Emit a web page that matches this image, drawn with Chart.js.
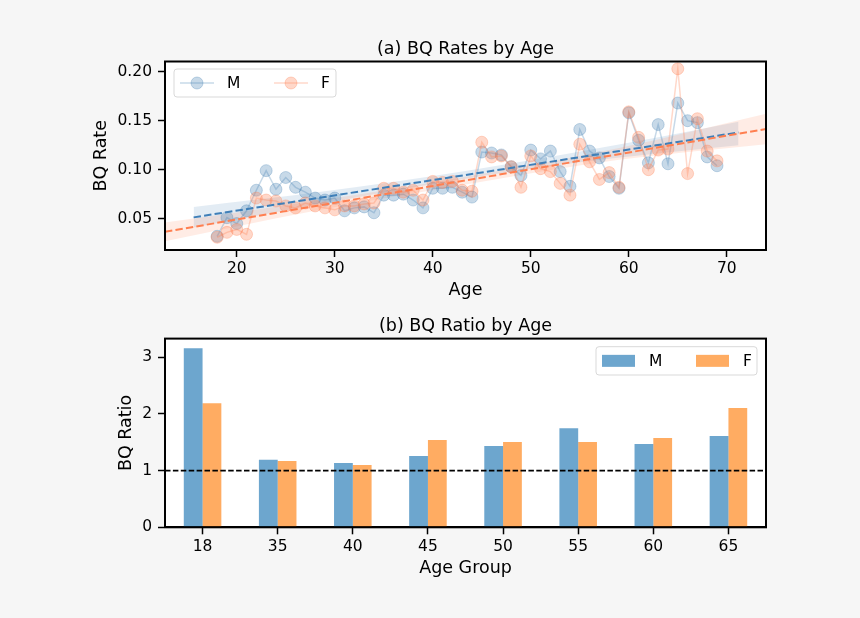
<!DOCTYPE html>
<html>
<head>
<meta charset="utf-8">
<script src="https://cdn.jsdelivr.net/npm/chart.js@4"></script>
<style>
  body { margin: 0; background: #f6f6f6; }
  .wrap { position: relative; width: 860px; height: 618px; }
  canvas { position: absolute; left: 0; }
</style>
</head>
<body>
<div class="wrap">
  <canvas id="rateChart" width="860" height="309" style="top:0"></canvas>
  <canvas id="ratioChart" width="860" height="309" style="top:309px"></canvas>
</div>
<script>
// ===== data (a) : BQ rate by age =====
const ages = [18, 19, 20, 21, 22, 23, 24, 25, 26, 27, 28, 29, 30, 31, 32, 33, 34, 35, 36, 37,
  38, 39, 40, 41, 42, 43, 44, 45, 46, 47, 48, 49, 50, 51, 52, 53, 54, 55, 56, 57,
  58, 59, 60, 61, 62, 63, 64, 65, 66, 67, 68, 69]
const rateM = [0.032, 0.051, 0.045, 0.058, 0.079, 0.099, 0.080, 0.092, 0.082, 0.077,
  0.071, 0.069, 0.071, 0.058, 0.061, 0.062, 0.056, 0.074, 0.074, 0.075,
  0.069, 0.061, 0.081, 0.081, 0.082, 0.077, 0.072, 0.118, 0.117, 0.115,
  0.103, 0.094, 0.120, 0.111, 0.119, 0.098, 0.083, 0.141, 0.119, 0.112,
  0.093, 0.081, 0.158, 0.130, 0.107, 0.146, 0.106, 0.168, 0.150, 0.148,
  0.113, 0.104]
const rateF = [0.031, 0.036, 0.039, 0.034, 0.071, 0.069, 0.068, 0.063, 0.061, 0.066,
  0.063, 0.061, 0.059, 0.063, 0.063, 0.065, 0.066, 0.081, 0.081, 0.077,
  0.079, 0.069, 0.088, 0.087, 0.088, 0.079, 0.078, 0.128, 0.113, 0.114,
  0.103, 0.082, 0.114, 0.101, 0.098, 0.086, 0.074, 0.126, 0.108, 0.090,
  0.097, 0.082, 0.159, 0.133, 0.100, 0.120, 0.121, 0.203, 0.096, 0.152,
  0.119, 0.109]

// fitted trend lines + confidence bands
const trendAgeM = [15.6, 71.2]
const trendM = [0.0513, 0.138]
const trendAgeF = [12.68, 74.0]
const trendF = [0.0366, 0.1415]
const bandAgeM = [15.6, 29, 43.5, 57, 71.2]
const bandHiM = [0.062, 0.078, 0.099, 0.122, 0.149]
const bandLoM = [0.041, 0.066, 0.091, 0.110, 0.125]
const bandAgeF = [12.68, 28, 43.5, 59, 74.0]
const bandHiF = [0.046, 0.068, 0.093, 0.122, 0.157]
const bandLoF = [0.027, 0.058, 0.085, 0.110, 0.126]

const ageTicks = [20, 30, 40, 50, 60, 70]
const rateTicks = [0.05, 0.10, 0.15, 0.20]

// ===== data (b) : BQ ratio by age group =====
const ageGroups = ['18', '35', '40', '45', '50', '55', '60', '65']
const ratioM = [3.16, 1.19, 1.135, 1.26, 1.435, 1.75, 1.47, 1.61]
const ratioF = [2.19, 1.17, 1.10, 1.54, 1.505, 1.505, 1.575, 2.105]
const refLevel = 1
const ratioTicks = [0, 1, 2, 3]

Chart.defaults.font.family = '"DejaVu Sans", sans-serif'
Chart.defaults.color = '#000'

const pts = (xs, ys) => xs.map((x, i) => ({ x: x, y: ys[i] }))
const groupIdx = ageGroups.map((g, i) => i)

// white plot area + black frame all round
const framePlugin = {
  id: 'frame',
  beforeDraw(chart) {
    const { ctx, chartArea: a } = chart
    ctx.save()
    ctx.fillStyle = '#fff'
    ctx.fillRect(a.left, a.top, a.right - a.left, a.bottom - a.top)
    ctx.restore()
  },
  afterDraw(chart) {
    const { ctx, chartArea: a } = chart
    ctx.save()
    ctx.strokeStyle = '#000'
    ctx.lineWidth = 2
    ctx.strokeRect(a.left, a.top, a.right - a.left, a.bottom - a.top)
    ctx.restore()
  }
}

// legend inside a rounded box, like matplotlib
const boxLegend = {
  id: 'boxLegend',
  afterDatasetsDraw(chart, args, opts) {
    const { ctx } = chart
    const [x, y, w, h] = opts.box
    const cy = y + h / 2
    ctx.save()
    ctx.fillStyle = 'rgba(255,255,255,0.8)'
    ctx.strokeStyle = '#d9d9d9'
    ctx.lineWidth = 1
    ctx.beginPath()
    ctx.roundRect(x, y, w, h, 3)
    ctx.fill()
    ctx.stroke()
    ctx.font = '15.5px "DejaVu Sans"'
    ctx.textBaseline = 'middle'
    opts.items.forEach(it => {
      const ds = chart.data.datasets[it.dataset]
      const x0 = x + it.offset
      if (opts.kind === 'marker') {
        ctx.strokeStyle = ds.borderColor
        ctx.lineWidth = 1.5
        ctx.beginPath()
        ctx.moveTo(x0, cy)
        ctx.lineTo(x0 + 34, cy)
        ctx.stroke()
        ctx.beginPath()
        ctx.arc(x0 + 17, cy, 6, 0, Math.PI * 2)
        ctx.fillStyle = ds.pointBackgroundColor
        ctx.fill()
        ctx.lineWidth = 1
        ctx.strokeStyle = ds.pointBorderColor
        ctx.stroke()
      } else {
        ctx.fillStyle = ds.backgroundColor
        ctx.fillRect(x0, cy - 6, 33, 12)
      }
      ctx.fillStyle = '#000'
      ctx.fillText(ds.label, x0 + 47, cy + 1)
    })
    ctx.restore()
  }
}

const tickGrid = { drawOnChartArea: false, drawTicks: true, tickLength: 7, tickColor: '#000', tickWidth: 1.5, offset: false }
const axisBorder = { display: true, color: '#000', width: 2 }
const tickFont = { size: 15.5 }
const labelFont = { size: 17.5 }

const blue = 'rgba(70,130,180,0.3)'
const orange = 'rgba(255,127,80,0.3)'

// ======= Chart (a) : rates by age =======
new Chart(document.getElementById('rateChart'), {
  type: 'line',
  data: {
    datasets: [
      {
        label: 'M', data: pts(ages, rateM), order: 3,
        borderColor: blue, borderWidth: 1.5,
        pointRadius: 6, pointBackgroundColor: blue, pointBorderColor: blue, pointBorderWidth: 1
      },
      {
        label: 'F', data: pts(ages, rateF), order: 2,
        borderColor: orange, borderWidth: 1.5,
        pointRadius: 6, pointBackgroundColor: orange, pointBorderColor: orange, pointBorderWidth: 1
      },
      {
        label: 'trendM', data: pts(trendAgeM, trendM), order: 1,
        borderColor: '#3f7fb8', borderWidth: 2, borderDash: [7.4, 3.2], pointRadius: 0
      },
      {
        label: 'trendF', data: pts(trendAgeF, trendF), order: 0,
        borderColor: '#ff7f50', borderWidth: 2, borderDash: [7.4, 3.2], pointRadius: 0
      },
      {
        label: 'bandM', data: pts(bandAgeM, bandHiM), order: 6, fill: '+1',
        backgroundColor: 'rgba(70,130,180,0.15)', borderWidth: 0, pointRadius: 0, cubicInterpolationMode: 'monotone'
      },
      {
        label: 'bandM_lo', data: pts(bandAgeM, bandLoM), order: 6,
        borderWidth: 0, pointRadius: 0, cubicInterpolationMode: 'monotone'
      },
      {
        label: 'bandF', data: pts(bandAgeF, bandHiF), order: 5, fill: '+1',
        backgroundColor: 'rgba(255,127,80,0.15)', borderWidth: 0, pointRadius: 0, cubicInterpolationMode: 'monotone'
      },
      {
        label: 'bandF_lo', data: pts(bandAgeF, bandLoF), order: 5,
        borderWidth: 0, pointRadius: 0, cubicInterpolationMode: 'monotone'
      }
    ]
  },
  options: {
    responsive: false,
    animation: false,
    layout: { padding: { left: 0, right: 94, top: 0, bottom: 0 } },
    plugins: {
      legend: { display: false },
      tooltip: { enabled: false },
      title: {
        display: true, text: '(a) BQ Rates by Age', fullSize: false,
        font: { size: 17.5, weight: 'normal' }, padding: { top: 38.5, bottom: 2 }
      },
      boxLegend: { kind: 'marker', box: [174, 69, 162, 28], items: [{ dataset: 0, offset: 6 }, { dataset: 1, offset: 100 }] }
    },
    scales: {
      x: {
        type: 'linear', min: 12.68, max: 74.0,
        afterFit(s) { s.height = 59 },
        afterBuildTicks(s) { s.ticks = ageTicks.map(v => ({ value: v })) },
        ticks: { font: tickFont, padding: 3, maxRotation: 0, autoSkip: false },
        grid: tickGrid, border: axisBorder,
        title: { display: true, text: 'Age', font: labelFont, padding: { top: 0, bottom: 8.5 } }
      },
      y: {
        min: 0.018, max: 0.2104,
        afterFit(s) { s.width = 165 },
        afterBuildTicks(s) { s.ticks = rateTicks.map(v => ({ value: v })) },
        ticks: { font: tickFont, padding: 6, callback: v => v.toFixed(2) },
        grid: tickGrid, border: axisBorder,
        title: { display: true, text: 'BQ Rate', font: labelFont, padding: { top: 90.5, bottom: 0 } }
      }
    }
  },
  plugins: [framePlugin, boxLegend]
})

// ======= Chart (b) : ratio by age group =======
new Chart(document.getElementById('ratioChart'), {
  type: 'bar',
  data: {
    datasets: [
      { label: 'M', data: pts(groupIdx, ratioM), backgroundColor: 'rgba(31,119,180,0.65)', barPercentage: 1, categoryPercentage: 0.5, order: 2 },
      { label: 'F', data: pts(groupIdx, ratioF), backgroundColor: 'rgba(255,127,14,0.65)', barPercentage: 1, categoryPercentage: 0.5, order: 2 },
      {
        type: 'line', label: 'ref', order: 0,
        data: [{ x: -0.5, y: refLevel }, { x: ageGroups.length - 0.5, y: refLevel }],
        borderColor: '#000', borderWidth: 1.7, borderDash: [5.5, 2.4], pointRadius: 0
      }
    ]
  },
  options: {
    responsive: false,
    animation: false,
    layout: { padding: { left: 0, right: 94, top: 0, bottom: 0 } },
    plugins: {
      legend: { display: false },
      tooltip: { enabled: false },
      title: {
        display: true, text: '(b) BQ Ratio by Age', fullSize: false,
        font: { size: 17.5, weight: 'normal' }, padding: { top: 7.3, bottom: 1.3 }
      },
      boxLegend: { kind: 'patch', box: [596, 37.7, 161, 28.3], items: [{ dataset: 0, offset: 6 }, { dataset: 1, offset: 100 }] }
    },
    scales: {
      x: {
        type: 'linear', offset: false, min: -0.5, max: ageGroups.length - 0.5,
        afterFit(s) { s.height = 90.7 },
        afterBuildTicks(s) { s.ticks = groupIdx.map(v => ({ value: v })) },
        ticks: { font: tickFont, padding: 3, maxRotation: 0, autoSkip: false, callback: v => ageGroups[v] },
        grid: tickGrid, border: axisBorder,
        title: { display: true, text: 'Age Group', font: labelFont, padding: { top: 0, bottom: 39.5 } }
      },
      y: {
        min: 0, max: 3.33,
        afterFit(s) { s.width = 165 },
        afterBuildTicks(s) { s.ticks = ratioTicks.map(v => ({ value: v })) },
        ticks: { font: tickFont, padding: 6 },
        grid: tickGrid, border: axisBorder,
        title: { display: true, text: 'BQ Ratio', font: labelFont, padding: { top: 115.5, bottom: 0 } }
      }
    }
  },
  plugins: [framePlugin, boxLegend]
})
</script>
</body>
</html>
